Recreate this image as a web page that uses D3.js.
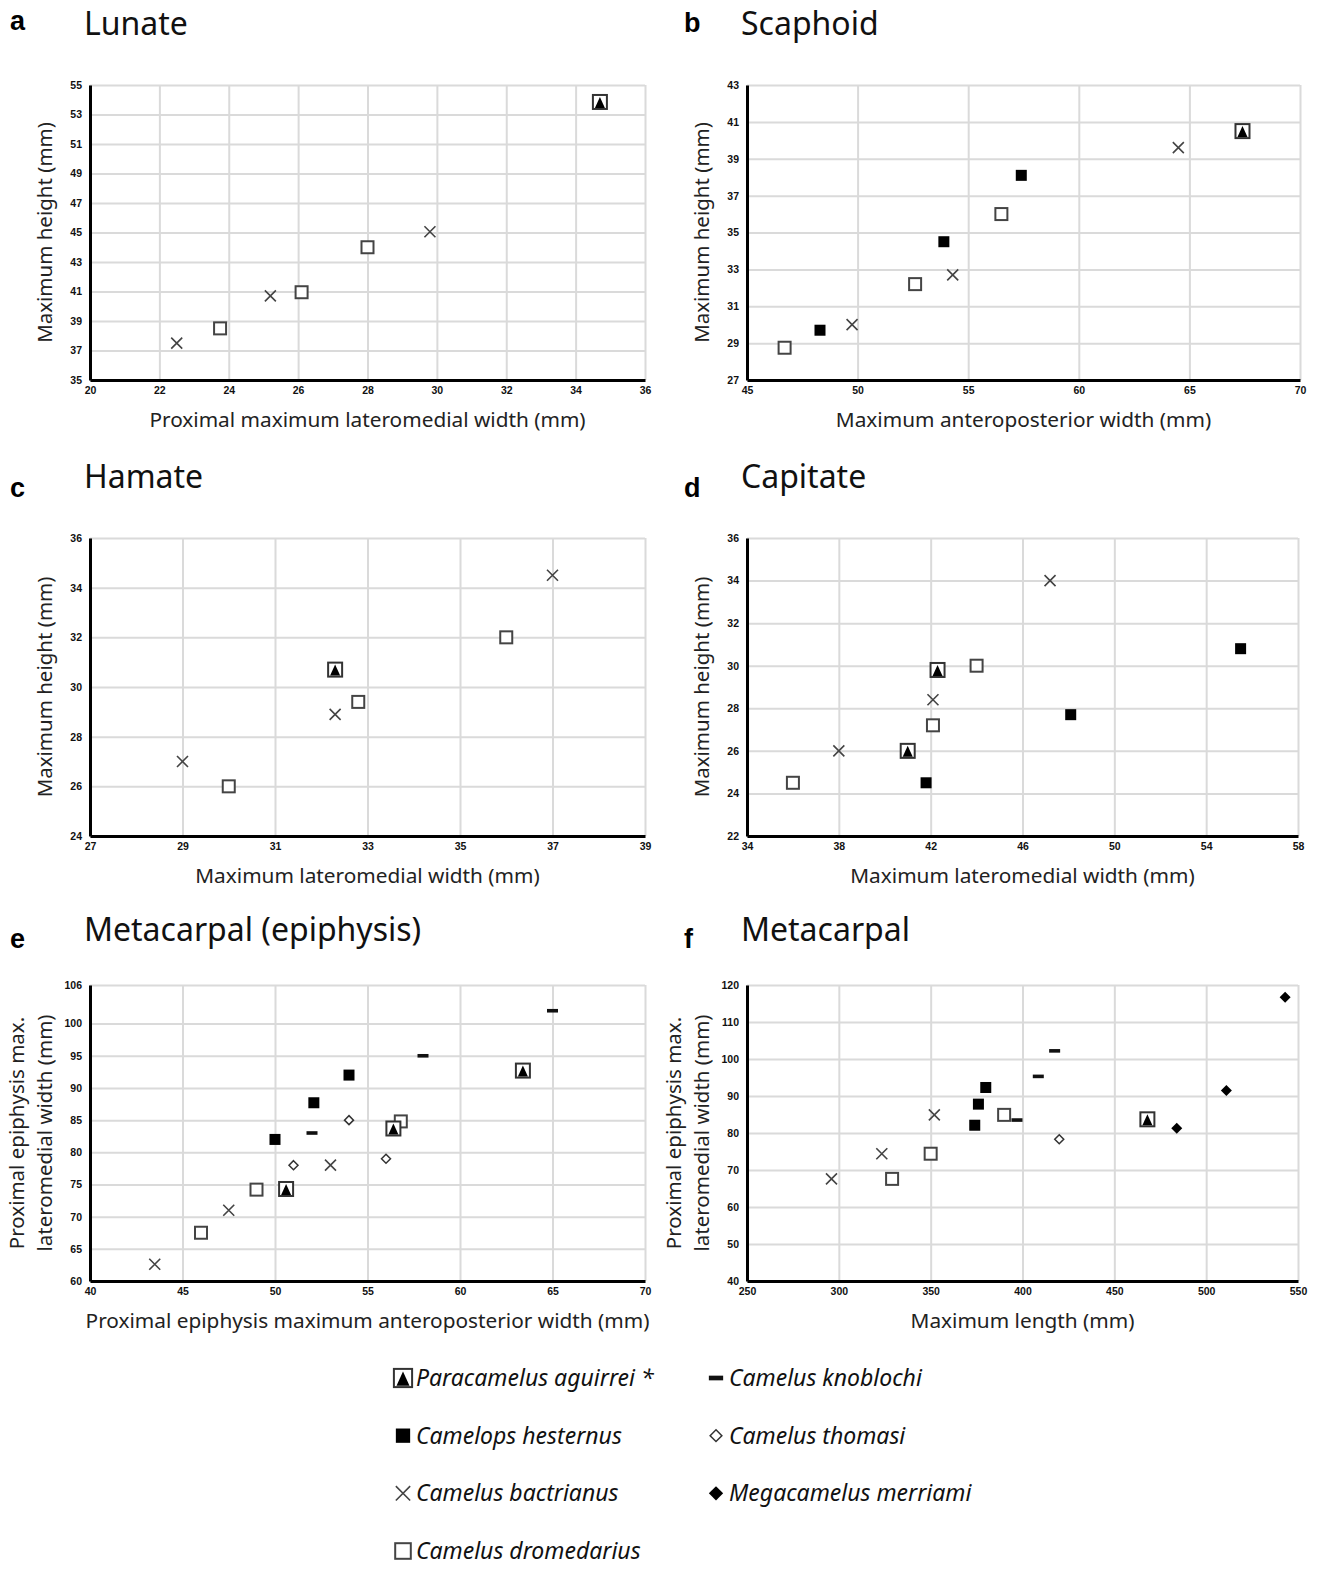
<!DOCTYPE html>
<html>
<head>
<meta charset="utf-8">
<script src="https://cdn.jsdelivr.net/npm/d3@7"></script>
<style>
  body { margin: 0; background: #fff; }
  svg { display: block; }
  .tick text { font-family: Arial, "Liberation Sans", sans-serif; font-weight: bold; font-size: 10.5px; fill: #111; }
</style>
</head>
<body>
<div id="chart"></div>
<script>
// species keys
var species = ['par', 'hes', 'bac', 'dro', 'kno', 'tho', 'mer'];
var speciesNames = ['Paracamelus aguirrei *', 'Camelops hesternus', 'Camelus bactrianus', 'Camelus dromedarius',
	'Camelus knoblochi', 'Camelus thomasi', 'Megacamelus merriami'];

// a: Lunate
var lunatePts = [
	{ sp: 'par', x: 34.7, y: 53.85 },
	{ sp: 'bac', x: 29.8, y: 45.05 },
	{ sp: 'dro', x: 28.0, y: 44.0 },
	{ sp: 'dro', x: 26.1, y: 40.95 },
	{ sp: 'bac', x: 25.2, y: 40.7 },
	{ sp: 'dro', x: 23.75, y: 38.5 },
	{ sp: 'bac', x: 22.5, y: 37.5 }
];
var lunateX = [20, 22, 24, 26, 28, 30, 32, 34, 36];
var lunateY = [35, 37, 39, 41, 43, 45, 47, 49, 51, 53, 55];

// b: Scaphoid
var scaphoidPts = [
	{ sp: 'par', x: 67.4, y: 40.5 },
	{ sp: 'bac', x: 64.5, y: 39.6 },
	{ sp: 'hes', x: 57.4, y: 38.1 },
	{ sp: 'dro', x: 56.5, y: 36.0 },
	{ sp: 'hes', x: 53.9, y: 34.5 },
	{ sp: 'bac', x: 54.3, y: 32.7 },
	{ sp: 'dro', x: 52.6, y: 32.2 },
	{ sp: 'bac', x: 49.75, y: 30.0 },
	{ sp: 'hes', x: 48.3, y: 29.7 },
	{ sp: 'dro', x: 46.7, y: 28.75 }
];
var scaphoidX = [45, 50, 55, 60, 65, 70];
var scaphoidY = [27, 29, 31, 33, 35, 37, 39, 41, 43];

// c: Hamate
var hamatePts = [
	{ sp: 'par', x: 32.3, y: 30.7 },
	{ sp: 'bac', x: 37.0, y: 34.5 },
	{ sp: 'dro', x: 36.0, y: 32.0 },
	{ sp: 'dro', x: 32.8, y: 29.4 },
	{ sp: 'bac', x: 32.3, y: 28.9 },
	{ sp: 'bac', x: 29.0, y: 27.0 },
	{ sp: 'dro', x: 30.0, y: 26.0 }
];
var hamateX = [27, 29, 31, 33, 35, 37, 39];
var hamateY = [24, 26, 28, 30, 32, 34, 36];

// d: Capitate
var capitatePts = [
	{ sp: 'bac', x: 47.2, y: 34.0 },
	{ sp: 'hes', x: 55.5, y: 30.8 },
	{ sp: 'dro', x: 44.0, y: 30.0 },
	{ sp: 'par', x: 42.3, y: 29.8 },
	{ sp: 'bac', x: 42.1, y: 28.4 },
	{ sp: 'hes', x: 48.1, y: 27.7 },
	{ sp: 'dro', x: 42.1, y: 27.2 },
	{ sp: 'bac', x: 38.0, y: 26.0 },
	{ sp: 'par', x: 41.0, y: 26.0 },
	{ sp: 'hes', x: 41.8, y: 24.5 },
	{ sp: 'dro', x: 36.0, y: 24.5 }
];
var capitateX = [34, 38, 42, 46, 50, 54, 58];
var capitateY = [22, 24, 26, 28, 30, 32, 34, 36];

// e: Metacarpal (epiphysis)
var mcEpiPts = [
	{ sp: 'kno', x: 65.0, y: 102.0 },
	{ sp: 'kno', x: 58.0, y: 95.0 },
	{ sp: 'par', x: 63.4, y: 92.7 },
	{ sp: 'hes', x: 54.0, y: 92.0 },
	{ sp: 'hes', x: 52.1, y: 87.7 },
	{ sp: 'tho', x: 54.0, y: 85.0 },
	{ sp: 'dro', x: 56.8, y: 84.8 },
	{ sp: 'par', x: 56.4, y: 83.7 },
	{ sp: 'kno', x: 52.0, y: 83.0 },
	{ sp: 'hes', x: 50.0, y: 82.0 },
	{ sp: 'tho', x: 56.0, y: 79.0 },
	{ sp: 'tho', x: 51.0, y: 78.0 },
	{ sp: 'bac', x: 53.0, y: 78.0 },
	{ sp: 'dro', x: 49.0, y: 74.2 },
	{ sp: 'par', x: 50.6, y: 74.3 },
	{ sp: 'bac', x: 47.5, y: 71.0 },
	{ sp: 'dro', x: 46.0, y: 67.5 },
	{ sp: 'bac', x: 43.5, y: 62.6 }
];
var mcEpiX = [40, 45, 50, 55, 60, 65, 70];
var mcEpiY = [60, 65, 70, 75, 80, 85, 90, 95, 100, 106];

// f: Metacarpal
var mcPts = [
	{ sp: 'mer', x: 543, y: 116.7 },
	{ sp: 'mer', x: 511, y: 91.5 },
	{ sp: 'mer', x: 484, y: 81.3 },
	{ sp: 'kno', x: 417.5, y: 102.2 },
	{ sp: 'kno', x: 408.6, y: 95.3 },
	{ sp: 'kno', x: 397, y: 83.5 },
	{ sp: 'hes', x: 380, y: 92.3 },
	{ sp: 'hes', x: 376, y: 87.8 },
	{ sp: 'hes', x: 374, y: 82.1 },
	{ sp: 'dro', x: 390, y: 84.9 },
	{ sp: 'par', x: 468, y: 83.7 },
	{ sp: 'tho', x: 420, y: 78.3 },
	{ sp: 'bac', x: 352, y: 84.9 },
	{ sp: 'bac', x: 323.4, y: 74.4 },
	{ sp: 'bac', x: 296, y: 67.6 },
	{ sp: 'dro', x: 350, y: 74.4 },
	{ sp: 'dro', x: 329, y: 67.6 }
];
var mcX = [250, 300, 350, 400, 450, 500, 550];
var mcY = [40, 50, 60, 70, 80, 90, 100, 110, 120];

var W = 1320, H = 1570;
var svg = d3.select('#chart').append('svg').attr('width', W).attr('height', H);

var titleFont = '"Noto Sans", "Open Sans", sans-serif';

// draws one marker centred on (cx, cy); k scales the size
function marker(g, sp, cx, cy, k) {
	k = k || 1;
	var m = g.append('g').attr('transform', 'translate(' + cx + ',' + cy + ')');
	if (sp == 'par') {
		m.append('rect').attr('x', -7 * k).attr('y', -7 * k).attr('width', 14 * k).attr('height', 14 * k)
			.attr('fill', '#fff').attr('stroke', '#333').attr('stroke-width', 2);
		m.append('path').attr('d', 'M0,' + (-5 * k) + 'L' + (-5 * k) + ',' + (6 * k) + 'L' + (5 * k) + ',' + (6 * k) + 'Z')
			.attr('fill', '#000');
	} else if (sp == 'hes') {
		m.append('rect').attr('x', -5.5 * k).attr('y', -5.5 * k).attr('width', 11 * k).attr('height', 11 * k)
			.attr('fill', '#000');
	} else if (sp == 'bac') {
		var r = 5.5 * k;
		m.append('path').attr('d', 'M' + -r + ',' + -r + 'L' + r + ',' + r + 'M' + -r + ',' + r + 'L' + r + ',' + -r)
			.attr('stroke', '#444').attr('stroke-width', 1.6).attr('fill', 'none');
	} else if (sp == 'dro') {
		m.append('rect').attr('x', -6 * k).attr('y', -6 * k).attr('width', 12 * k).attr('height', 12 * k)
			.attr('fill', '#fff').attr('stroke', '#444').attr('stroke-width', 2);
	} else if (sp == 'kno') {
		m.append('rect').attr('x', -5.5 * k).attr('y', -1.8 * k).attr('width', 11 * k).attr('height', 3.6 * k)
			.attr('fill', '#111');
	} else if (sp == 'tho') {
		var d = 4.5 * k;
		m.append('path').attr('d', 'M0,' + -d + 'L' + d + ',0L0,' + d + 'L' + -d + ',0Z')
			.attr('fill', '#fff').attr('stroke', '#333').attr('stroke-width', 1.5);
	} else if (sp == 'mer') {
		var e = 5.5 * k;
		m.append('path').attr('d', 'M0,' + -e + 'L' + e + ',0L0,' + e + 'L' + -e + ',0Z').attr('fill', '#000');
	}
}

function panel(opt) {
	var x = d3.scaleLinear().domain([ opt.xt[0], opt.xt[opt.xt.length - 1] ]).range([ opt.x0, opt.x1 ]);
	var y = d3.scaleLinear().domain([ opt.yt[0], opt.yt[opt.yt.length - 1] ]).range([ opt.y1, opt.y0 ]);
	var g = svg.append('g');

	// letter + title
	g.append('text').attr('x', opt.lx).attr('y', opt.ly).text(opt.letter)
		.style('font-family', 'Arial, "Liberation Sans", sans-serif').style('font-weight', 'bold').style('font-size', '27px');
	g.append('text').attr('x', opt.x0 - 6).attr('y', opt.ty).text(opt.title)
		.style('font-family', titleFont).style('font-size', '32px').attr('fill', '#111');

	// gridlines
	g.append('g').attr('transform', 'translate(0,' + opt.y1 + ')')
		.call(d3.axisBottom(x).tickValues(opt.xt).tickSize(-(opt.y1 - opt.y0)).tickFormat(''))
		.call(function(s) {
			s.select('.domain').remove();
			s.selectAll('line').attr('stroke', '#dadada').attr('stroke-width', 2);
		});
	g.append('g').attr('transform', 'translate(' + opt.x0 + ',0)')
		.call(d3.axisLeft(y).tickValues(opt.yt).tickSize(-(opt.x1 - opt.x0)).tickFormat(''))
		.call(function(s) {
			s.select('.domain').remove();
			s.selectAll('line').attr('stroke', '#dadada').attr('stroke-width', 2);
		});

	// axes with labels
	g.append('g').attr('transform', 'translate(0,' + opt.y1 + ')')
		.call(d3.axisBottom(x).tickValues(opt.xt).tickSize(0).tickPadding(7).tickFormat(d3.format('d')))
		.call(function(s) {
			s.select('.domain').attr('stroke', '#000').attr('stroke-width', 3);
		});
	g.append('g').attr('transform', 'translate(' + opt.x0 + ',0)')
		.call(d3.axisLeft(y).tickValues(opt.yt).tickSize(0).tickPadding(8).tickFormat(d3.format('d')))
		.call(function(s) {
			s.select('.domain').attr('stroke', '#000').attr('stroke-width', 3);
		});

	// axis titles
	g.append('text').attr('x', (opt.x0 + opt.x1) / 2).attr('y', opt.y1 + 47).attr('text-anchor', 'middle')
		.text(opt.xlab).style('font-family', titleFont).style('font-size', '20.8px').attr('fill', '#222');
	var yl = g.append('text').attr('transform', 'translate(' + (opt.x0 - 38) + ',' + (opt.y0 + opt.y1) / 2 + ') rotate(-90)')
		.attr('text-anchor', 'middle').style('font-family', titleFont).style('font-size', '20.5px').attr('fill', '#222');
	opt.ylab.forEach(function(t, i) {
		yl.append('tspan').attr('x', 0).attr('y', (i - opt.ylab.length + 1) * 28).text(t);
	});

	// points
	var pg = g.append('g');
	opt.pts.forEach(function(d) {
		marker(pg, d.sp, x(d.x), y(d.y));
	});
}

panel({ letter: 'a', title: 'Lunate', lx: 10, ly: 30, ty: 35, x0: 90, x1: 645, y0: 85, y1: 380,
	xt: lunateX, yt: lunateY, pts: lunatePts,
	xlab: 'Proximal maximum lateromedial width (mm)', ylab: [ 'Maximum height (mm)' ] });
panel({ letter: 'b', title: 'Scaphoid', lx: 684, ly: 32, ty: 35, x0: 747, x1: 1300, y0: 85, y1: 380,
	xt: scaphoidX, yt: scaphoidY, pts: scaphoidPts,
	xlab: 'Maximum anteroposterior width (mm)', ylab: [ 'Maximum height (mm)' ] });
panel({ letter: 'c', title: 'Hamate', lx: 10, ly: 497, ty: 488, x0: 90, x1: 645, y0: 538, y1: 836,
	xt: hamateX, yt: hamateY, pts: hamatePts,
	xlab: 'Maximum lateromedial width (mm)', ylab: [ 'Maximum height (mm)' ] });
panel({ letter: 'd', title: 'Capitate', lx: 684, ly: 497, ty: 488, x0: 747, x1: 1298, y0: 538, y1: 836,
	xt: capitateX, yt: capitateY, pts: capitatePts,
	xlab: 'Maximum lateromedial width (mm)', ylab: [ 'Maximum height (mm)' ] });
panel({ letter: 'e', title: 'Metacarpal (epiphysis)', lx: 10, ly: 948, ty: 941, x0: 90, x1: 645, y0: 985, y1: 1281,
	xt: mcEpiX, yt: mcEpiY, pts: mcEpiPts,
	xlab: 'Proximal epiphysis maximum anteroposterior width (mm)',
	ylab: [ 'Proximal epiphysis max.', 'lateromedial width (mm)' ] });
panel({ letter: 'f', title: 'Metacarpal', lx: 684, ly: 948, ty: 941, x0: 747, x1: 1298, y0: 985, y1: 1281,
	xt: mcX, yt: mcY, pts: mcPts,
	xlab: 'Maximum length (mm)', ylab: [ 'Proximal epiphysis max.', 'lateromedial width (mm)' ] });

// legend
var legCol = d3.scaleOrdinal().domain([0, 1]).range([ 403, 716 ]);
var legRow = d3.scalePoint().domain([0, 1, 2, 3]).range([ 1378, 1551 ]);
var lg = svg.append('g');
species.forEach(function(sp, i) {
	var col = i < 4 ? 0 : 1, row = i < 4 ? i : i - 4;
	var cx = legCol(col), cy = legRow(row);
	marker(lg, sp, cx, cy, 1.3);
	lg.append('text').attr('x', cx + 13).attr('y', cy + 8).text(speciesNames[i])
		.style('font-family', titleFont).style('font-style', 'italic').style('font-size', '23px').attr('fill', '#111');
});
</script>
</body>
</html>
